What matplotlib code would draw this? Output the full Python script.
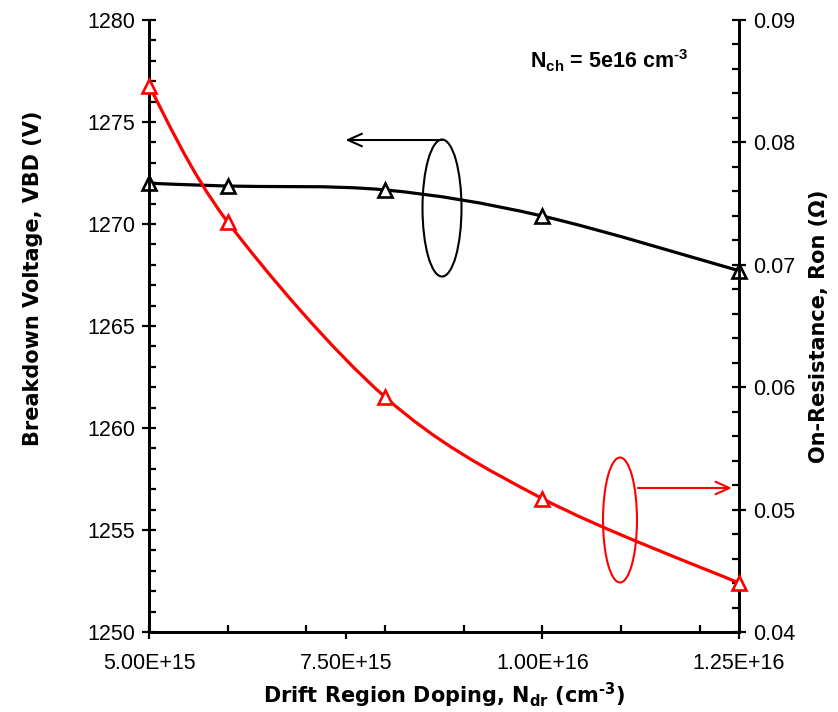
import numpy as np
import matplotlib
matplotlib.use("Agg")
import matplotlib.pyplot as plt
from matplotlib.patches import Ellipse, PathPatch
from matplotlib.path import Path
from matplotlib.ticker import FixedLocator, MultipleLocator

# ---- data -------------------------------------------------------------
doping = [5.0e15, 6.0e15, 8.0e15, 1.0e16, 1.25e16]          # N_dr (cm^-3)
vbd = [1272.0, 1271.86, 1271.67, 1270.39, 1267.71]           # breakdown voltage (V)
ron = [0.0846, 0.0735, 0.0592, 0.0509, 0.0440]              # on-resistance (ohm)

x_ticks = [5.0e15, 7.5e15, 1.0e16, 1.25e16]
x_tick_labels = ["5.00E+15", "7.50E+15", "1.00E+16", "1.25E+16"]
vbd_ticks = [1250, 1255, 1260, 1265, 1270, 1275, 1280]
ron_ticks = [0.04, 0.05, 0.06, 0.07, 0.08, 0.09]
ron_tick_labels = ["0.04", "0.05", "0.06", "0.07", "0.08", "0.09"]

# ---- style ------------------------------------------------------------
plt.rcParams["font.family"] = ["Liberation Sans", "DejaVu Sans"]
plt.rcParams["mathtext.fontset"] = "custom"
plt.rcParams["mathtext.rm"] = "Liberation Sans"
plt.rcParams["mathtext.bf"] = "Liberation Sans:bold"
plt.rcParams["mathtext.default"] = "bf"

W, H = 838, 712
fig = plt.figure(figsize=(W / 100, H / 100), dpi=100)
L, R, T, B = 149, 739, 20, 632
ax = fig.add_axes([L / W, 1 - B / H, (R - L) / W, (B - T) / H])
ax2 = ax.twinx()

ax.set_xlim(5.0e15, 1.25e16)
ax.set_ylim(1250, 1280)
ax2.set_ylim(0.04, 0.09)

for a in (ax, ax2):
    a.spines["top"].set_visible(False)
    for s in ("left", "right", "bottom"):
        a.spines[s].set_linewidth(2.0)
ax.patch.set_visible(False)


def smooth_curve(axis, xs, ys, color, lw):
    """Draw a smoothed (cubic Bezier, Catmull-Rom style) line through the points."""
    to_axes = axis.transData + axis.transAxes.inverted()
    p = to_axes.transform(np.column_stack([xs, ys]))
    n = len(p)
    verts = [p[0]]
    codes = [Path.MOVETO]
    for i in range(n - 1):
        p0 = p[i - 1] if i > 0 else p[i]
        p1, p2 = p[i], p[i + 1]
        p3 = p[i + 2] if i + 2 < n else p[i + 1]
        c1 = p1 + (p2 - p0) / 6.0
        c2 = p2 - (p3 - p1) / 6.0
        verts += [c1, c2, p2]
        codes += [Path.CURVE4] * 3
    patch = PathPatch(Path(verts, codes), facecolor="none", edgecolor=color,
                      lw=lw, transform=axis.transAxes, clip_on=False, zorder=3)
    axis.add_patch(patch)


smooth_curve(ax, doping, vbd, "black", 2.3)
smooth_curve(ax2, doping, ron, "#ff0000", 2.3)
ax.plot(doping, vbd, ls="none", marker="^", ms=9.5, mfc="white", mec="black",
        mew=1.9, zorder=4, clip_on=False)
ax2.plot(doping, ron, ls="none", marker="^", ms=9.5, mfc="white", mec="#ff0000",
         mew=1.9, zorder=4, clip_on=False)

# ---- ticks ------------------------------------------------------------
ax.xaxis.set_major_locator(FixedLocator(x_ticks))
ax.set_xticklabels(x_tick_labels)
ax.xaxis.set_minor_locator(MultipleLocator(1.0e15))
ax.xaxis.remove_overlapping_locs = False
ax.yaxis.set_major_locator(FixedLocator(vbd_ticks))
ax.set_yticklabels([str(v) for v in vbd_ticks])
ax.yaxis.set_minor_locator(MultipleLocator(1))
ax.yaxis.remove_overlapping_locs = False
ax2.yaxis.set_major_locator(FixedLocator(ron_ticks))
ax2.set_yticklabels(ron_tick_labels)
ax2.yaxis.set_minor_locator(MultipleLocator(0.002))
ax2.yaxis.remove_overlapping_locs = False

ax.tick_params(axis="both", which="major", direction="out", length=5, width=1.6,
               labelsize=15.5, colors="black")
ax.tick_params(axis="both", which="minor", direction="in", length=5, width=1.6)
ax.tick_params(axis="x", which="major", pad=10)
ax.tick_params(axis="y", which="major", pad=5)
ax2.tick_params(axis="y", which="major", direction="out", length=5, width=1.6,
                labelsize=15.5, pad=5)
ax2.tick_params(axis="y", which="minor", direction="in", length=5, width=1.6)

# ---- axis titles ------------------------------------------------------
lab_font = dict(family="DejaVu Sans", weight="bold", size=15)
ax.set_xlabel("Drift Region Doping, N$_{dr}$ (cm$^{\u20103}$)",
              math_fontfamily="dejavusans", **lab_font)
ax.set_ylabel("Breakdown Voltage, VBD (V)", **lab_font)
ax2.set_ylabel("On-Resistance, Ron (Ω)", **lab_font)
ax.xaxis.set_label_coords(0.5, -0.079)
ax.yaxis.set_label_coords(-0.179, 0.578)
ax2.yaxis.set_label_coords(1.119, 0.5)

# ---- annotations -------------------------------------------------------
ax2.text(0.646, 0.921, "N$_{ch}$ = 5e16 cm$^{\u20103}$", transform=ax.transAxes,
         ha="left", va="baseline", fontsize=15.5, fontweight="bold")

ax2.add_patch(Ellipse((0.4966, 0.6928), 0.0661, 0.2239, transform=ax.transAxes,
                      facecolor="none", edgecolor="black", lw=1.5, zorder=5))
ax2.annotate("", xy=(0.333, 0.8039), xytext=(0.4966, 0.8039),
             xycoords=ax.transAxes, textcoords=ax.transAxes,
             arrowprops=dict(arrowstyle="->,head_length=1.0,head_width=0.45",
                             color="black", lw=1.5, shrinkA=0, shrinkB=0))

ax2.add_patch(Ellipse((0.7983, 0.183), 0.0576, 0.2042, transform=ax.transAxes,
                      facecolor="none", edgecolor="#ff0000", lw=1.5, zorder=5))
ax2.annotate("", xy=(0.988, 0.2353), xytext=(0.8288, 0.2353),
             xycoords=ax.transAxes, textcoords=ax.transAxes,
             arrowprops=dict(arrowstyle="->,head_length=1.0,head_width=0.45",
                             color="#ff0000", lw=1.5, shrinkA=0, shrinkB=0))

fig.savefig("out.png", dpi=100)
